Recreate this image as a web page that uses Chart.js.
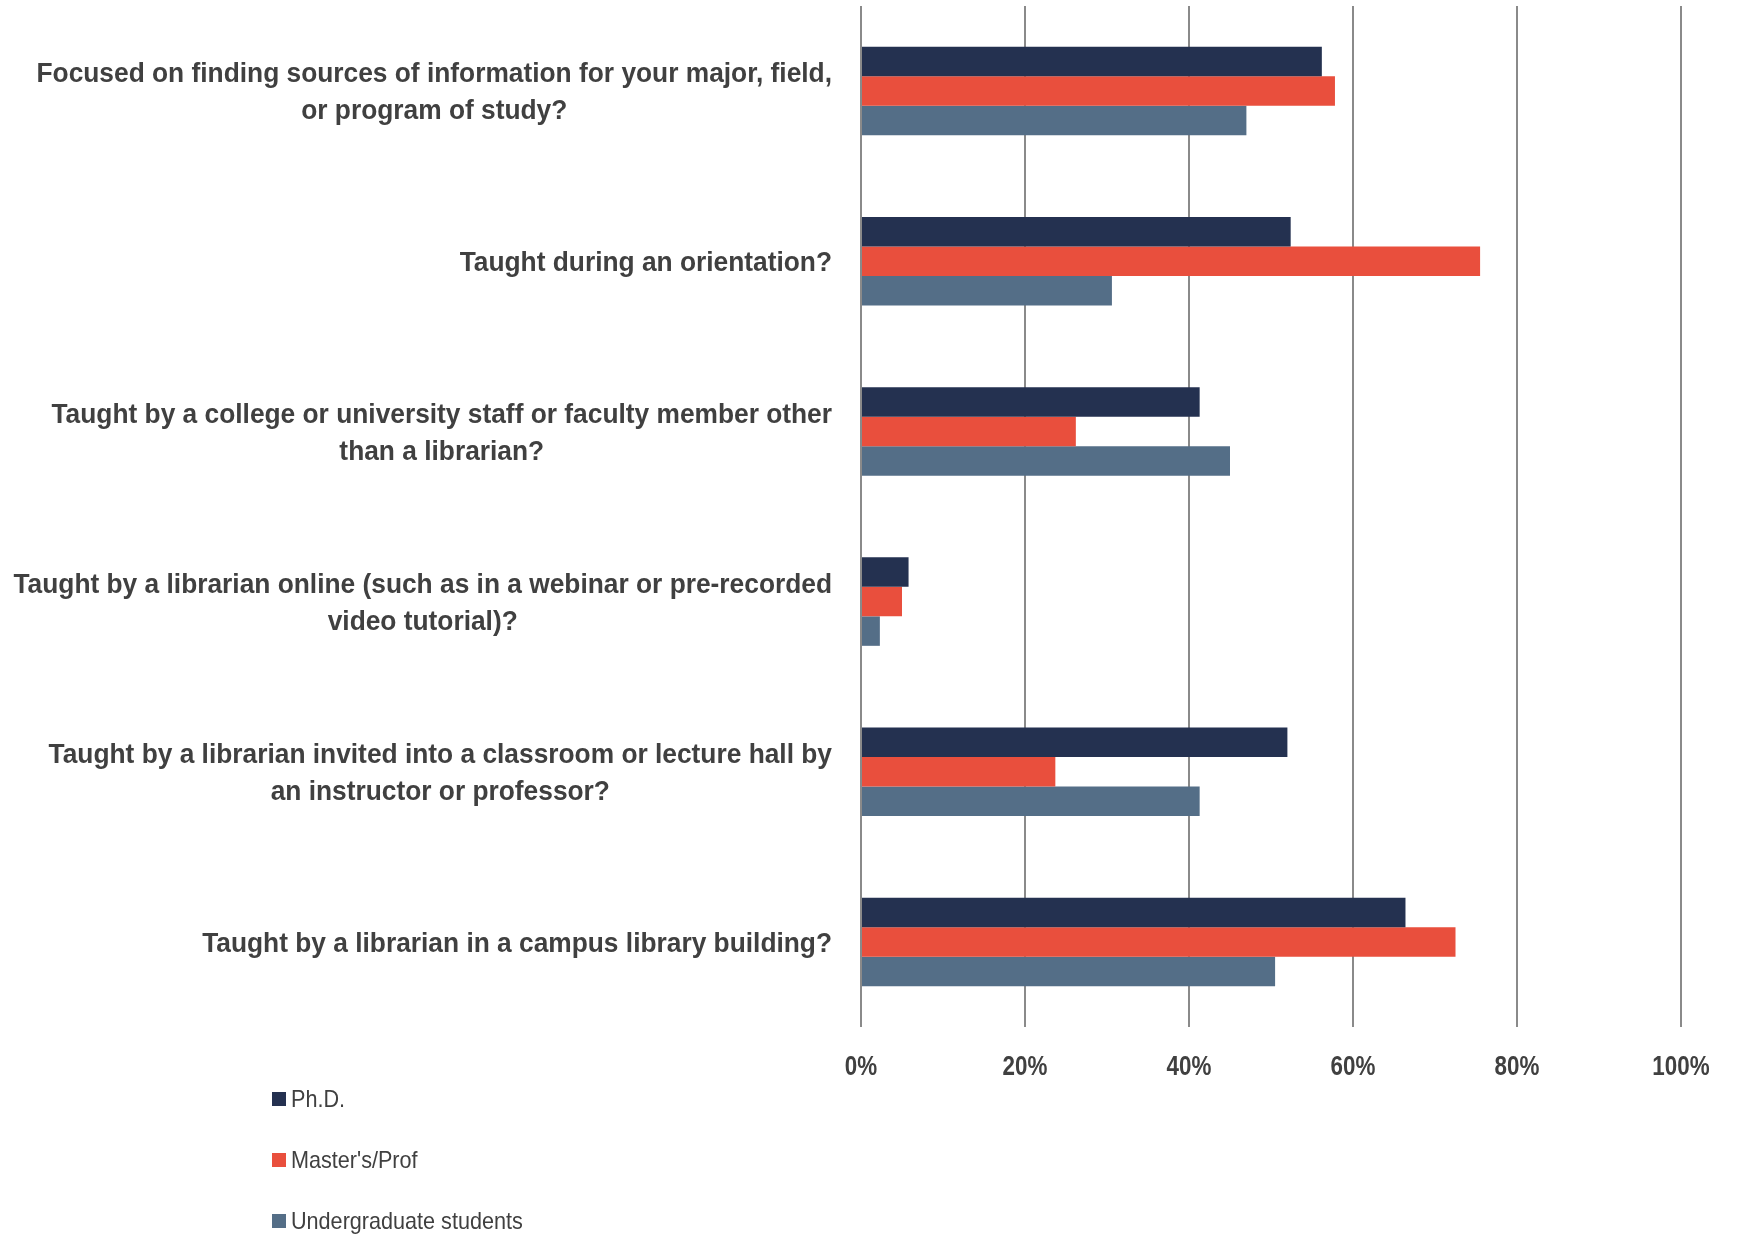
<!DOCTYPE html>
<html>
<head>
<meta charset="utf-8">
<script src="https://cdn.jsdelivr.net/npm/chart.js@4"></script>
<style>
  body { margin: 0; background: #fff; }
  #wrap { position: relative; width: 1739px; height: 1234px; }
  #legend { position: absolute; left: 272px; top: 1085px; font-family: 'Liberation Sans', Arial, sans-serif; font-size: 24px; color: #404040; }
  #legend div { height: 61px; display: flex; align-items: flex-start; }
  #legend span.box { display: inline-block; width: 14px; height: 14px; margin: 7px 5px 0 0; }
  #legend span.txt { display: inline-block; transform: scaleX(0.9); transform-origin: left center; white-space: nowrap; }
</style>
</head>
<body>
<div id="wrap">
  <canvas id="barChart" width="1739" height="1234"></canvas>
  <div id="legend"></div>
</div>
<script>
// Preguntas (categorías)
const preguntas = [
    ['Focused on finding sources of information for your major, field,', 'or program of study?'],
    ['Taught during an orientation?'],
    ['Taught by a college or university staff or faculty member other', 'than a librarian?'],
    ['Taught by a librarian online (such as in a webinar or pre-recorded', 'video tutorial)?'],
    ['Taught by a librarian invited into a classroom or lecture hall by', 'an instructor or professor?'],
    ['Taught by a librarian in a campus library building?']
];

// Porcentajes por grupo
const phd = [56.2, 52.4, 41.3, 5.8, 52.0, 66.4];
const master = [57.8, 75.5, 26.2, 5.0, 23.7, 72.5];
const undergrad = [47.0, 30.6, 45.0, 2.3, 41.3, 50.5];

const xTicks = [0, 20, 40, 60, 80, 100];

const fuente = "'Liberation Sans', Arial, sans-serif";

// Dibuja texto estrecho centrado en (x, y)
function textoEstrecho(ctx, texto, x, y, escala) {
    ctx.save();
    ctx.translate(x, y);
    ctx.scale(escala, 1);
    ctx.fillText(texto, 0, 0);
    ctx.restore();
}

// Plugin para dibujar las etiquetas de los ejes
const etiquetas = {
    id: 'etiquetas',
    afterDraw(chart) {
        const ctx = chart.ctx;
        const y = chart.scales.y;
        const x = chart.scales.x;
        ctx.save();
        ctx.fillStyle = '#404040';
        ctx.textAlign = 'center';
        ctx.textBaseline = 'middle';

        // Etiquetas de categorías
        ctx.font = 'bold 28px ' + fuente;
        const escalaY = 0.94;
        const lineH = 37;
        preguntas.forEach((lineas, i) => {
            const cy = y.getPixelForTick(i) + 2;
            const ancho = Math.max(...lineas.map(l => ctx.measureText(l).width)) * escalaY;
            const cx = 832 - ancho / 2;
            lineas.forEach((l, j) => {
                textoEstrecho(ctx, l, cx, cy + (j - (lineas.length - 1) / 2) * lineH, escalaY);
            });
        });

        // Etiquetas del eje X
        ctx.font = 'bold 28px ' + fuente;
        xTicks.forEach(v => {
            textoEstrecho(ctx, v + '%', x.getPixelForValue(v), chart.chartArea.bottom + 40, 0.8);
        });
        ctx.restore();
    }
};

const ctx = document.getElementById('barChart').getContext('2d');
const chart = new Chart(ctx, {
    type: 'bar',
    data: {
        labels: preguntas,
        datasets: [{
            label: 'Ph.D.',
            data: phd,
            backgroundColor: '#243150'
        }, {
            label: "Master's/Prof",
            data: master,
            backgroundColor: '#E94F3D'
        }, {
            label: 'Undergraduate students',
            data: undergrad,
            backgroundColor: '#546E87'
        }]
    },
    options: {
        indexAxis: 'y',
        responsive: false,
        animation: false,
        categoryPercentage: 0.52,
        barPercentage: 1.0,
        layout: { padding: { top: 6, right: 58, bottom: 147, left: 0 } },
        plugins: {
            legend: { display: false },
            tooltip: { enabled: false }
        },
        scales: {
            x: {
                min: 0,
                max: 100,
                afterBuildTicks: scale => { scale.ticks = xTicks.map(v => ({ value: v })); },
                afterFit: scale => { scale.height = 60; },
                grid: { color: '#8a8a8a', lineWidth: 2, drawTicks: false },
                border: { display: false },
                ticks: { display: false }
            },
            y: {
                afterFit: scale => { scale.width = 861; },
                grid: { display: false },
                border: { display: false },
                ticks: { display: false }
            }
        }
    },
    plugins: [etiquetas]
});

// Leyenda vertical en HTML
const leyenda = document.getElementById('legend');
chart.data.datasets.forEach(ds => {
    const fila = document.createElement('div');
    fila.innerHTML = `<span class="box" style="background:${ds.backgroundColor}"></span><span class="txt">${ds.label}</span>`;
    leyenda.appendChild(fila);
});
</script>
</body>
</html>
